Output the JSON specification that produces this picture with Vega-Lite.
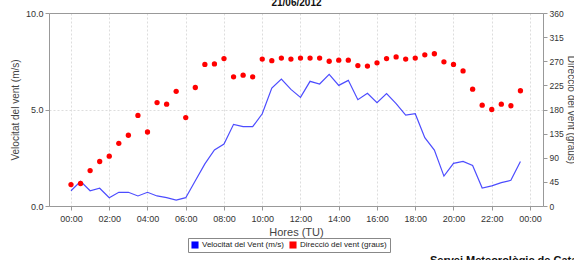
{
  "$schema": "https://vega.github.io/schema/vega-lite/v6.json",
  "width": 494,
  "height": 193,
  "autosize": {"type": "none"},
  "padding": {"left": 49, "top": 13, "right": 31, "bottom": 54},
  "background": "white",
  "config": {
    "font": "Liberation Sans",
    "view": {"stroke": null},
    "axis": {"labelFont": "Liberation Sans", "titleFont": "Liberation Sans", "labelFontSize": 9, "titleFontSize": 10, "titleFontWeight": "normal", "labelColor": "#333", "titleColor": "#444", "domainColor": "#999", "tickColor": "#999", "tickSize": 4, "gridColor": "#dddddd", "gridDash": [2, 2]}
  },
  "title": {"text": "Servei Meteorològic de Catalunya", "orient": "bottom", "anchor": "start", "fontSize": 11, "fontWeight": "bold", "color": "#111", "offset": 2, "dx": 381, "frame": "group", "baseline": "top"},
  "data": {
    "values": [
      {"h": 0, "speed": 0.79, "dir": 40},
      {"h": 0.5, "speed": 1.28, "dir": 42},
      {"h": 1, "speed": 0.79, "dir": 66},
      {"h": 1.5, "speed": 0.92, "dir": 83},
      {"h": 2, "speed": 0.43, "dir": 93},
      {"h": 2.5, "speed": 0.71, "dir": 117},
      {"h": 3, "speed": 0.71, "dir": 132},
      {"h": 3.5, "speed": 0.52, "dir": 169},
      {"h": 4, "speed": 0.71, "dir": 138},
      {"h": 4.5, "speed": 0.52, "dir": 193},
      {"h": 5, "speed": 0.43, "dir": 190},
      {"h": 5.5, "speed": 0.31, "dir": 214},
      {"h": 6, "speed": 0.43, "dir": 165},
      {"h": 6.5, "speed": 1.31, "dir": 221},
      {"h": 7, "speed": 2.18, "dir": 264},
      {"h": 7.5, "speed": 2.9, "dir": 265},
      {"h": 8, "speed": 3.21, "dir": 275},
      {"h": 8.5, "speed": 4.23, "dir": 241},
      {"h": 9, "speed": 4.11, "dir": 244},
      {"h": 9.5, "speed": 4.11, "dir": 241},
      {"h": 10, "speed": 4.78, "dir": 274},
      {"h": 10.5, "speed": 6.11, "dir": 271},
      {"h": 11, "speed": 6.58, "dir": 276},
      {"h": 11.5, "speed": 6.04, "dir": 274},
      {"h": 12, "speed": 5.63, "dir": 276},
      {"h": 12.5, "speed": 6.46, "dir": 276},
      {"h": 13, "speed": 6.32, "dir": 276},
      {"h": 13.5, "speed": 6.82, "dir": 270},
      {"h": 14, "speed": 6.25, "dir": 272},
      {"h": 14.5, "speed": 6.51, "dir": 272},
      {"h": 15, "speed": 5.51, "dir": 262},
      {"h": 15.5, "speed": 5.84, "dir": 261},
      {"h": 16, "speed": 5.35, "dir": 267},
      {"h": 16.5, "speed": 5.82, "dir": 275},
      {"h": 17, "speed": 5.3, "dir": 278},
      {"h": 17.5, "speed": 4.71, "dir": 274},
      {"h": 18, "speed": 4.78, "dir": 276},
      {"h": 18.5, "speed": 3.54, "dir": 282},
      {"h": 19, "speed": 2.9, "dir": 284},
      {"h": 19.5, "speed": 1.55, "dir": 269},
      {"h": 20, "speed": 2.21, "dir": 264},
      {"h": 20.5, "speed": 2.31, "dir": 252},
      {"h": 21, "speed": 2.1, "dir": 218},
      {"h": 21.5, "speed": 0.93, "dir": 188},
      {"h": 22, "speed": 1.04, "dir": 180},
      {"h": 22.5, "speed": 1.21, "dir": 190},
      {"h": 23, "speed": 1.33, "dir": 187},
      {"h": 23.5, "speed": 2.31, "dir": 215}
    ]
  },
  "layer": [
    {
      "mark": {"type": "line", "strokeWidth": 1.2, "opacity": 0.7},
      "encoding": {
        "x": {"field": "h", "type": "quantitative", "scale": {"domain": [-1.15, 24.68], "nice": false, "zero": false},
              "axis": {"values": [0, 2, 4, 6, 8, 10, 12, 14, 16, 18, 20, 22, 24], "labelExpr": "(datum.value % 24 < 10 ? '0' : '') + (datum.value % 24) + ':00'", "title": "Hores (TU)", "titleFontSize": 11, "titlePadding": 3, "labelPadding": 4, "grid": true}},
        "y": {"field": "speed", "type": "quantitative", "scale": {"domain": [0, 10], "nice": false},
              "axis": {"values": [0, 5, 10], "format": ".1f", "title": "Velocitat del vent (m/s)", "titlePadding": 5, "grid": true}},
        "color": {"datum": "Velocitat del Vent (m/s)", "type": "nominal",
                  "scale": {"domain": ["Velocitat del Vent (m/s)", "Direcció del vent (graus)"], "range": ["#0000ff", "#ff0000"]},
                  "legend": {"title": null, "orient": "none", "legendX": 139, "legendY": 225, "direction": "horizontal", "symbolType": "square", "symbolSize": 50, "symbolStrokeWidth": 0, "labelFontSize": 8, "labelOffset": 3, "labelColor": "#222", "strokeColor": "#888", "padding": 3, "columnPadding": 5, "symbolOpacity": 1}}
      }
    },
    {
      "mark": {"type": "point", "filled": true, "size": 28, "opacity": 1},
      "encoding": {
        "x": {"field": "h", "type": "quantitative",
              "axis": {"orient": "top", "title": "21/06/2012", "titleFontWeight": "bold", "titleFontSize": 10, "titleColor": "#111", "labels": false, "ticks": false, "grid": false, "titleBaseline": "alphabetic", "titleY": -8}},
        "y": {"field": "dir", "type": "quantitative", "scale": {"domain": [0, 360], "nice": false},
              "axis": {"orient": "right", "values": [0, 45, 90, 135, 180, 225, 270, 315, 360], "labelFontSize": 8.5, "title": "Direcció del vent (graus)", "titleX": 22, "grid": false}},
        "color": {"datum": "Direcció del vent (graus)", "type": "nominal"}
      }
    }
  ],
  "resolve": {"scale": {"y": "independent"}, "axis": {"x": "independent"}}
}
